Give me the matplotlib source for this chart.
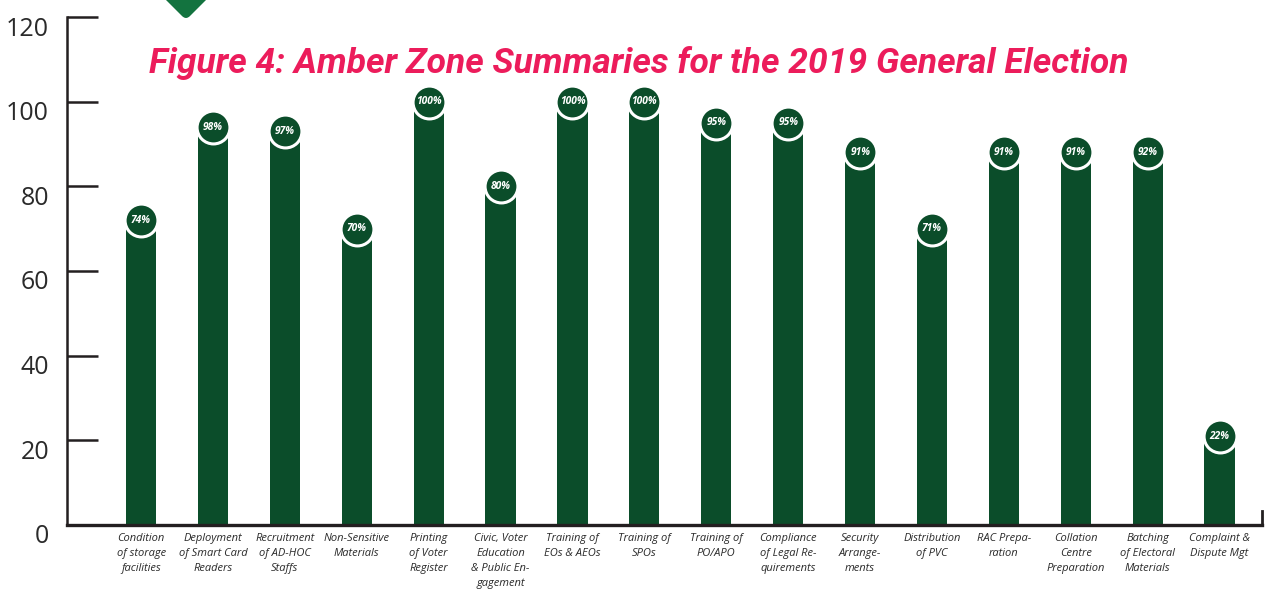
import matplotlib
matplotlib.use('Agg')
import matplotlib.pyplot as plt
import matplotlib.transforms as mtransforms
from matplotlib.patches import FancyBboxPatch
import numpy as np

categories = ['Condition\nof storage\nfacilities', 'Deployment\nof Smart Card\nReaders',
              'Recruitment\nof AD-HOC\nStaffs', 'Non-Sensitive\nMaterials',
              'Printing\nof Voter\nRegister', 'Civic, Voter\nEducation\n& Public En-\ngagement',
              'Training of\nEOs & AEOs', 'Training of\nSPOs', 'Training of\nPO/APO',
              'Compliance\nof Legal Re-\nquirements', 'Security\nArrange-\nments',
              'Distribution\nof PVC', 'RAC Prepa-\nration', 'Collation\nCentre\nPreparation',
              'Batching\nof Electoral\nMaterials', 'Complaint &\nDispute Mgt']
# bar heights as drawn in the picture
heights = [72, 94, 93, 70, 100, 80, 100, 100, 95, 95, 88, 70, 88, 88, 88, 21]
# percentages printed in the circles
labels = [74, 98, 97, 70, 100, 80, 100, 100, 95, 95, 91, 71, 91, 91, 92, 22]
yticks = [0, 20, 40, 60, 80, 100, 120]

bar_col = '#0b4d2a'
axis_col = '#231f20'
title_col = '#ec1c5b'

fig = plt.figure(figsize=(12.69, 5.89), dpi=100)
ax = fig.add_axes([0.0528, 0.1087, 0.9417, 0.8624])

x = np.arange(len(heights))
ax.bar(x, heights, width=0.42, color=bar_col, zorder=2)
ax.scatter(x, heights, s=560, color=bar_col, edgecolors='white', linewidths=2.2, zorder=3, clip_on=False)
for xi, h, lab in zip(x, heights, labels):
    ax.text(xi, h, '%d%%' % lab, ha='center', va='center', color='white', fontsize=7.4,
            fontweight='bold', style='italic', family='Open Sans', zorder=4)

ax.set_xlim(-1.03, 15.59)
ax.set_ylim(0, 120)
ax.set_yticks(yticks)
ax.set_yticklabels([str(t) for t in yticks], fontsize=18, color='#2a2a2a', family='Open Sans')
ax.tick_params(axis='y', direction='in', length=22, width=1.8, color=axis_col, pad=13)
off = mtransforms.ScaledTranslation(0, -9 / 100, fig.dpi_scale_trans)
for lab in ax.get_yticklabels():
    lab.set_transform(lab.get_transform() + off)

ax.set_xticks(x)
ax.set_xticklabels(categories, fontsize=8, style='italic', color='#2a2a2a',
                   family='Open Sans', linespacing=1.5, va='top')
ax.tick_params(axis='x', length=0, pad=6)

for s in ['top', 'right']:
    ax.spines[s].set_visible(False)
ax.spines['left'].set_linewidth(1.8)
ax.spines['left'].set_color(axis_col)
ax.spines['bottom'].set_linewidth(2.4)
ax.spines['bottom'].set_color(axis_col)
ax.plot([15.59, 15.59], [0, 3.2], color=axis_col, lw=2, clip_on=False)

fig.text(0.503, 1 - 63 / 589, 'Figure 4: Amber Zone Summaries for the 2019 General Election',
         ha='center', va='center', color=title_col, fontsize=25.5, fontweight='bold',
         style='italic', family='Roboto')

# green diamond decoration at top
diam = FancyBboxPatch((0, 0), 1, 1, boxstyle='round,pad=0,rounding_size=0.12',
                      facecolor='#13733f', edgecolor='none')
tr = (mtransforms.Affine2D().translate(-0.5, -0.5).rotate_deg(45).scale(46)
      .translate(186, 589 - 20 + 0.7071 * 46))
diam.set_transform(tr)
fig.patches.append(diam)

fig.savefig('out.png', dpi=100)
